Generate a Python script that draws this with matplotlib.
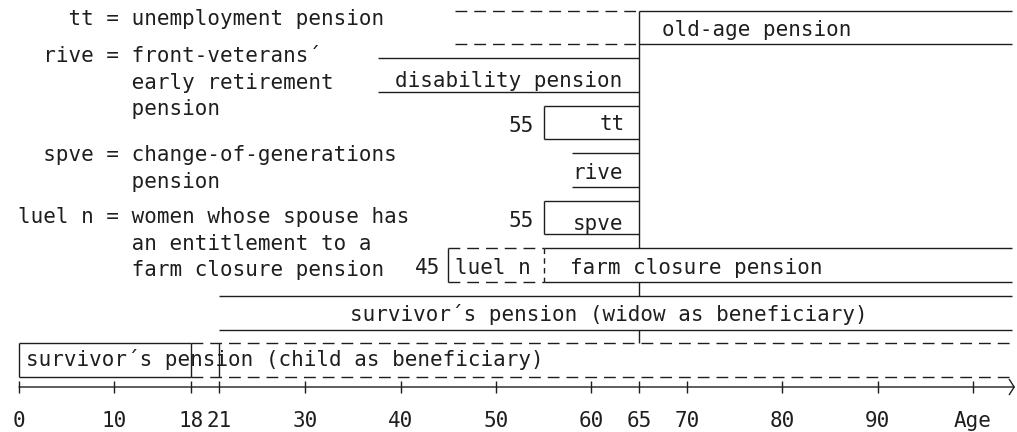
import matplotlib
matplotlib.use('Agg')
import matplotlib.pyplot as plt

# ---- data -------------------------------------------------------------
tick_ages = [0, 10, 18, 21, 30, 40, 50, 60, 65, 70, 80, 90, 100]
tick_labels = ['0', '10', '18', '21', '30', '40', '50', '60', '65', '70', '80', '90', 'Age']

retire_age = 65
max_age = 104.1

row_labels = ['old-age pension', 'disability pension', 'tt', 'rive', 'spve',
              'farm closure pension',
              'survivor´s pension (widow as beneficiary)',
              'survivor´s pension (child as beneficiary)']
row_start = [65, 37.6, 55, 58, 55, 55, 21, 0]
row_end = [max_age, 65, 65, 65, 65, max_age, max_age, 18]

early_old_age_start = 45.7   # dashed lead-in to the old-age pension
luel_start = 45              # wives of farm closure pensioners
child_study_age = 21         # child pension may continue while studying

abbrevs = ['tt', 'rive', 'spve', 'luel n']
meanings = [['unemployment pension'],
            ['front-veterans´', 'early retirement', 'pension'],
            ['change-of-generations', 'pension'],
            ['women whose spouse has', 'an entitlement to a', 'farm closure pension']]

# ---- layout -----------------------------------------------------------
INK = '#1e1e1e'
FONT = 'DejaVu Sans Mono'
FS = 15
LW = 1.0
DASH = (0, (8.5, 5))

px_per_year = 9.54
x0_px = 19
W, H = 1017, 432

row_center = [27.5 + i * 47.54 for i in range(len(row_labels))]
half = 16.8
top = [c - half for c in row_center]
bot = [c + half for c in row_center]
axis_y = 387

fig = plt.figure(figsize=(W / 100, H / 100), dpi=100)
ax = fig.add_axes([0, 0, 1, 1])
ax.set_xlim(-x0_px / px_per_year, (W - x0_px) / px_per_year)
ax.set_ylim(H, 0)
ax.axis('off')

def hl(i, a, b, ls='-'):
    ax.hlines([top[i], bot[i]], a, b, colors=INK, lw=LW, linestyles=ls)

def vl(x, y1, y2, ls='-'):
    ax.vlines(x, y1, y2, colors=INK, lw=LW, linestyles=ls)

def txt(x, y, s, ha='left'):
    ax.text(x, y, s, ha=ha, va='baseline', fontsize=FS, family=FONT, color=INK)

# old-age pension
hl(0, row_start[0], row_end[0])
hl(0, early_old_age_start, retire_age, ls=DASH)
# disability
hl(1, row_start[1], row_end[1])
# tt and spve: boxes opened on the right by the age-65 line
for i in (2, 4):
    hl(i, row_start[i], row_end[i])
    vl(row_start[i], top[i], bot[i])
    txt(row_start[i] - 1.0, row_center[i] + 9, str(row_start[i]), ha='right')
# rive
hl(3, row_start[3], row_end[3])
# farm closure + luel n
hl(5, row_start[5], row_end[5])
vl(row_start[5], top[5], bot[5], ls=(0, (4, 3)))
hl(5, luel_start, row_start[5], ls=DASH)
vl(luel_start, top[5], bot[5])
txt(luel_start - 0.9, row_center[5] + 9, str(luel_start), ha='right')
txt(luel_start + 0.7, row_center[5] + 9, 'luel n')
# widow
hl(6, row_start[6], row_end[6])
# child
hl(7, row_start[7], row_end[7])
vl([row_start[7], row_end[7]], top[7], bot[7])
hl(7, row_end[7], max_age, ls=DASH)
vl(child_study_age, top[7], bot[7])

# the age-65 line joining the rows
vl(retire_age, top[0], top[5])
vl(retire_age, bot[5], top[6])
vl(retire_age, bot[6], top[7])

# row labels
label_x = [67.4, 39.4, 63.5, 58, 58, 57.8, 34.7, 0.7]
label_dy = [8, 12, 7, 9, 12, 9, 8, 6]
for i, s in enumerate(row_labels):
    txt(label_x[i], row_center[i] + label_dy[i], s, ha='right' if s == 'tt' else 'left')

# age axis
ax.annotate('', xy=(max_age + 0.3, axis_y), xytext=(0, axis_y),
            arrowprops=dict(arrowstyle='->,head_length=0.35,head_width=0.55',
                            lw=LW, color=INK, shrinkA=0, shrinkB=0))
vl(tick_ages, axis_y - 6, axis_y + 6)
for a, lab in zip(tick_ages, tick_labels):
    txt(a, 427, lab, ha='center')

# legend of abbreviations
leg_x = (18 - x0_px) / px_per_year
group_y = [25, 62, 161, 223]
step = 26.7
for ab, lines, gy in zip(abbrevs, meanings, group_y):
    for k, line in enumerate(lines):
        prefix = ab.rjust(6) + ' = ' if k == 0 else ' ' * 9
        txt(leg_x, gy + k * step, prefix + line)

fig.savefig('out.png', dpi=100, facecolor='white')
